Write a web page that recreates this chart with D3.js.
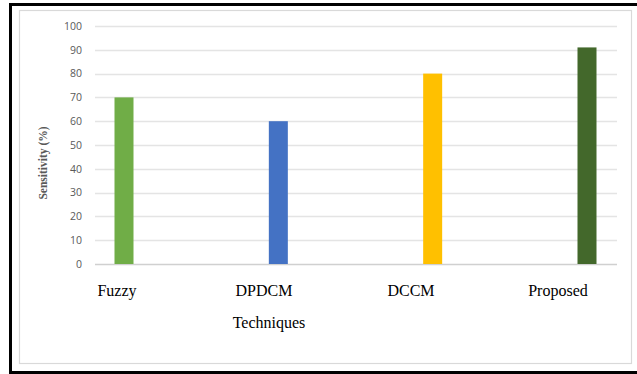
<!DOCTYPE html>
<html>
<head>
<meta charset="utf-8">
<script src="https://cdn.jsdelivr.net/npm/d3@7"></script>
<style>
  body { margin: 0; background: #fff; overflow: hidden; }
  svg { display: block; }
</style>
</head>
<body>
<svg id="chart" width="637" height="374"></svg>
<script>
// data
var techniques = ['Fuzzy', 'DPDCM', 'DCCM', 'Proposed'];
var sensitivity = [70, 60, 80, 91];
var barColors = ['#70ad47', '#4472c4', '#ffc000', '#43682b'];
var yTicks = [0, 10, 20, 30, 40, 50, 60, 70, 80, 90, 100];

var serif = "'Times New Roman', 'Liberation Serif', 'DejaVu Serif', serif";
var svg = d3.select('#chart');

// black frame (top, left, bottom only - right side is cut off in the original)
var frame = svg.append('g').attr('stroke', '#000').attr('stroke-width', 3);
frame.append('line').attr('x1', 9).attr('x2', 637).attr('y1', 4.5).attr('y2', 4.5);
frame.append('line').attr('x1', 10.5).attr('x2', 10.5).attr('y1', 3).attr('y2', 374);
frame.append('line').attr('x1', 9).attr('x2', 637).attr('y1', 372.5).attr('y2', 372.5);

// inner light frame
svg.append('rect').attr('x', 19.5).attr('y', 10.5).attr('width', 612).attr('height', 353)
  .attr('fill', '#fff').attr('stroke', '#d9d9d9').attr('stroke-width', 1.2);

var y = d3.scaleLinear().domain([0, 100]).range([264, 26]);
var x = d3.scalePoint().domain(techniques).range([124, 587]);
var xLabel = d3.scalePoint().domain(techniques).range([117, 558]);
var barW = 19;

// gridlines
svg.append('g').selectAll('line').data(yTicks).join('line')
  .attr('x1', 95).attr('x2', 617)
  .attr('y1', function(d) { return Math.round(y(d)) + 0.5; })
  .attr('y2', function(d) { return Math.round(y(d)) + 0.5; })
  .attr('stroke', function(d) { return d === 0 ? '#d0d0d0' : '#e4e4e4'; })
  .attr('stroke-width', 1.3);

// y axis labels
var yAxis = d3.axisLeft(y).tickValues(yTicks).tickSize(0).tickPadding(0);
var ya = svg.append('g').attr('transform', 'translate(82,0)').call(yAxis);
ya.select('.domain').remove();
ya.selectAll('text').attr('fill', '#595959').attr('font-family', 'Open Sans, sans-serif').attr('font-size', 10.5);

// bars
svg.append('g').selectAll('rect').data(techniques).join('rect')
  .attr('x', function(d) { return x(d) - barW / 2; })
  .attr('y', function(d, i) { return y(sensitivity[i]); })
  .attr('width', barW)
  .attr('height', function(d, i) { return y(0) - y(sensitivity[i]); })
  .attr('fill', function(d, i) { return barColors[i]; });

// category labels
svg.append('g').selectAll('text').data(techniques).join('text')
  .attr('x', function(d) { return xLabel(d); })
  .attr('y', 296)
  .attr('text-anchor', 'middle')
  .style('font-family', serif)
  .attr('font-size', 16)
  .attr('fill', '#000')
  .text(function(d) { return d; });

svg.append('text')
  .attr('x', 269).attr('y', 328)
  .attr('text-anchor', 'middle')
  .style('font-family', serif)
  .attr('font-size', 16)
  .text('Techniques');

svg.append('text')
  .attr('transform', 'translate(47,163) rotate(-90)')
  .attr('text-anchor', 'middle')
  .style('font-family', serif)
  .attr('font-weight', 'bold')
  .attr('font-size', 11.5)
  .attr('fill', '#595959')
  .text('Sensitivity (%)');
</script>
</body>
</html>
